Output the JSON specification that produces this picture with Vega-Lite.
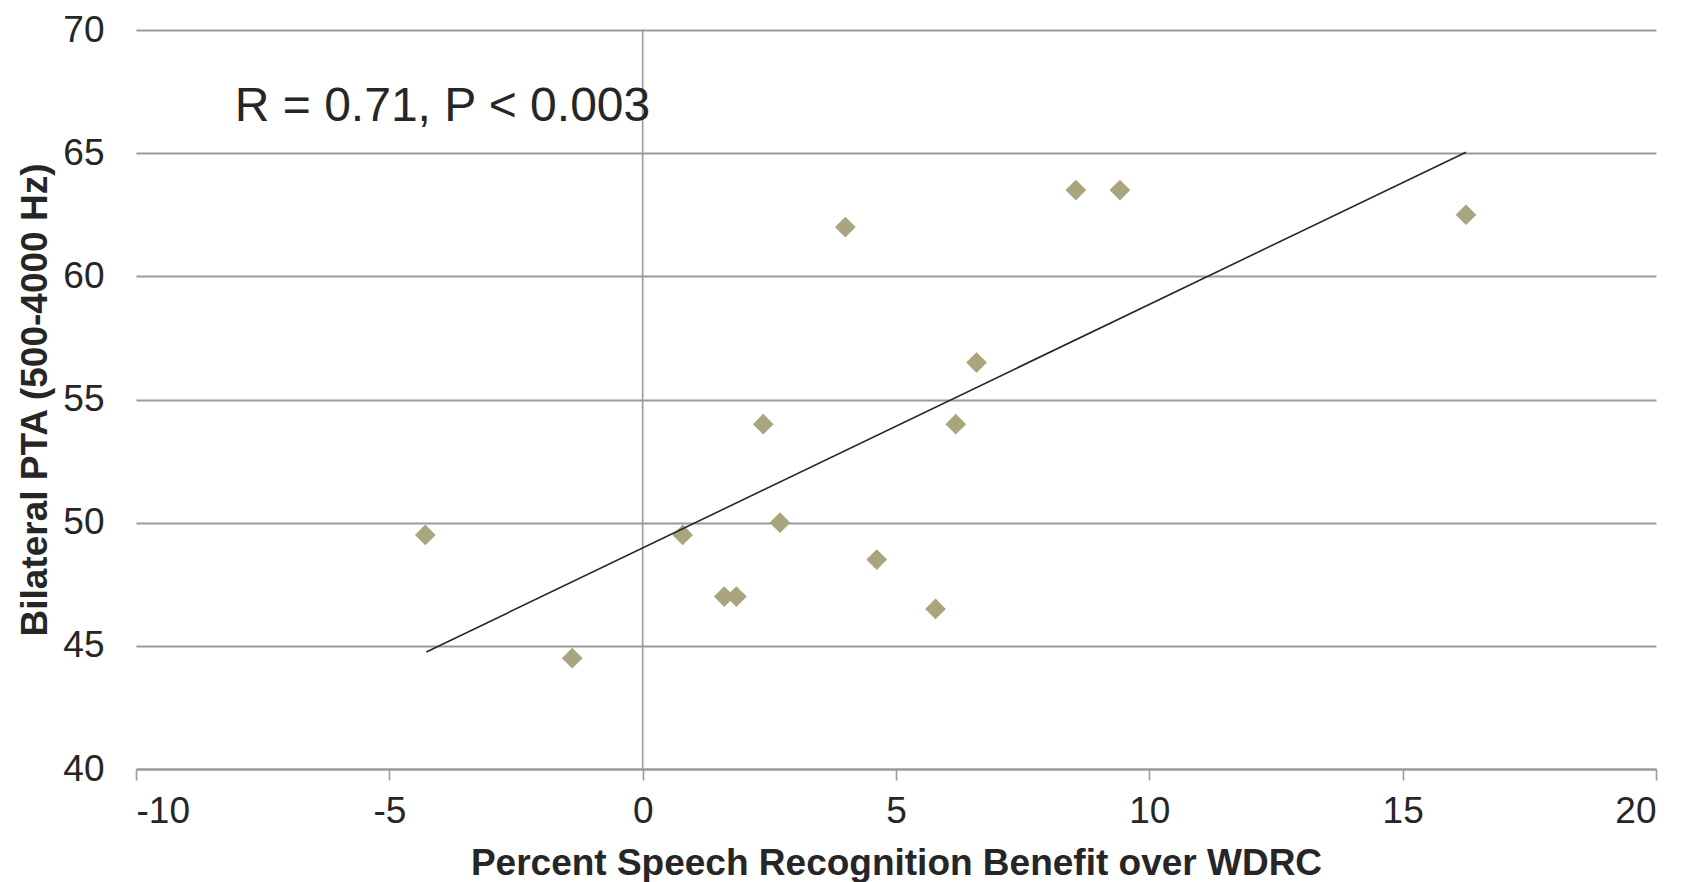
{
  "$schema": "https://vega.github.io/schema/vega-lite/v6.json",
  "width": 1520,
  "height": 739,
  "autosize": {"type": "none"},
  "padding": {"left": 136, "top": 30, "right": 25, "bottom": 113},
  "background": "white",
  "config": {
    "view": {"stroke": null},
    "font": "Liberation Sans"
  },
  "datasets": {
    "points": [
      {"x": -4.29, "y": 49.5},
      {"x": -1.39, "y": 44.5},
      {"x": 0.79, "y": 49.5},
      {"x": 1.61, "y": 47.0},
      {"x": 1.85, "y": 47.0},
      {"x": 2.38, "y": 54.0},
      {"x": 2.71, "y": 50.0},
      {"x": 4.0, "y": 62.0},
      {"x": 4.62, "y": 48.5},
      {"x": 5.78, "y": 46.5},
      {"x": 6.18, "y": 54.0},
      {"x": 6.59, "y": 56.5},
      {"x": 8.55, "y": 63.5},
      {"x": 9.42, "y": 63.5},
      {"x": 16.25, "y": 62.5}
    ],
    "trend": [
      {"x": -4.27, "y": 44.75},
      {"x": 16.25, "y": 65.04}
    ],
    "note": [
      {"x": -8.05, "y": 66.87, "label": "R = 0.71, P < 0.003"}
    ]
  },
  "layer": [
    {
      "data": {"values": [{"x": 0}]},
      "mark": {"type": "rule", "color": "#9a9a9a", "strokeWidth": 1.6},
      "encoding": {
        "x": {"field": "x", "type": "quantitative", "title": "Percent Speech Recognition Benefit over WDRC"}
      }
    },
    {
      "data": {"name": "points"},
      "mark": {"type": "point", "shape": "diamond", "filled": true, "color": "#a9a57f", "size": 430, "opacity": 1},
      "encoding": {
        "x": {
          "field": "x", "type": "quantitative",
          "scale": {"domain": [-10, 20], "nice": false, "zero": false},
          "title": "Percent Speech Recognition Benefit over WDRC",
          "axis": {
            "values": [-10, -5, 0, 5, 10, 15, 20],
            "labelExpr": "'' + datum.value",
            "grid": false,
            "domainColor": "#9a9a9a", "domainWidth": 1.8,
            "tickColor": "#9a9a9a", "tickWidth": 1.6, "tickSize": 11,
            "labelFont": "Liberation Sans", "labelFontSize": 37, "labelColor": "#262626",
            "labelPadding": 13,
            "titleFont": "Liberation Sans", "titleFontSize": 37, "titleFontWeight": "bold", "titleColor": "#262626",
            "titleY": 105, "titleBaseline": "alphabetic"
          }
        },
        "y": {
          "field": "y", "type": "quantitative",
          "scale": {"domain": [40, 70], "nice": false, "zero": false},
          "title": "Bilateral PTA (500-4000 Hz)",
          "axis": {
            "values": [40, 45, 50, 55, 60, 65, 70],
            "grid": true, "gridColor": "#9a9a9a", "gridWidth": 1.8,
            "domain": false, "ticks": false, "tickSize": 0,
            "labelFont": "Liberation Sans", "labelFontSize": 37, "labelColor": "#262626",
            "labelPadding": 32,
            "titleFont": "Liberation Sans", "titleFontSize": 37, "titleFontWeight": "bold", "titleColor": "#262626",
            "titleX": -90, "titleBaseline": "alphabetic"
          }
        }
      }
    },
    {
      "data": {"name": "trend"},
      "mark": {"type": "line", "color": "#262626", "strokeWidth": 1.6},
      "encoding": {
        "x": {"field": "x", "type": "quantitative", "title": "Percent Speech Recognition Benefit over WDRC"},
        "y": {"field": "y", "type": "quantitative", "title": "Bilateral PTA (500-4000 Hz)"}
      }
    },
    {
      "data": {"name": "note"},
      "mark": {"type": "text", "align": "left", "baseline": "middle", "font": "Liberation Sans", "fontSize": 48, "color": "#262626"},
      "encoding": {
        "x": {"field": "x", "type": "quantitative", "title": "Percent Speech Recognition Benefit over WDRC"},
        "y": {"field": "y", "type": "quantitative", "title": "Bilateral PTA (500-4000 Hz)"},
        "text": {"field": "label"}
      }
    }
  ]
}
